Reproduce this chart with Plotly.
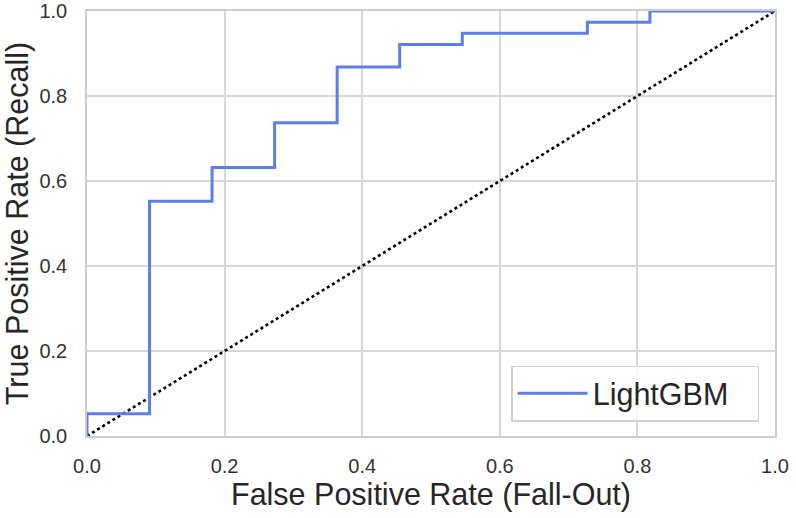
import plotly.graph_objects as go

fpr = [0.0, 0.0, 0.0909, 0.0909, 0.1818, 0.1818, 0.2727, 0.2727, 0.3636, 0.3636,
       0.4545, 0.4545, 0.5455, 0.5455, 0.7273, 0.7273, 0.8182, 0.8182, 1.0]
tpr = [0.0, 0.0526, 0.0526, 0.5526, 0.5526, 0.6316, 0.6316, 0.7368, 0.7368, 0.8684,
       0.8684, 0.9211, 0.9211, 0.9474, 0.9474, 0.9737, 0.9737, 1.0, 1.0]
diag = [0.0, 1.0]
ticks = [0.0, 0.2, 0.4, 0.6, 0.8, 1.0]
tick_text = ["0.0", "0.2", "0.4", "0.6", "0.8", "1.0"]

fig = go.Figure()
fig.add_trace(go.Scatter(x=diag, y=diag, mode="lines", showlegend=False,
                         line=dict(color="black", width=2.6, dash="dot"), hoverinfo="skip"))
fig.add_trace(go.Scatter(x=fpr, y=tpr, mode="lines", name="LightGBM",
                         line=dict(color="#5b7fe6", width=3)))

axis_common = dict(range=[0, 1], tickvals=ticks, ticktext=tick_text,
                   showgrid=True, gridcolor="#d6d6d6", gridwidth=1.5,
                   zeroline=False, showline=True, linecolor="#cccccc", linewidth=1.5,
                   mirror=True, ticks="", automargin=False,
                   tickfont=dict(size=20, color="#333333"))

fig.update_layout(
    width=796, height=518,
    margin=dict(l=87, r=21, t=11, b=82),
    paper_bgcolor="white", plot_bgcolor="white",
    font=dict(family="Liberation Sans, Arial, sans-serif", color="#262626"),
    xaxis=dict(**axis_common, ticklabelstandoff=11,
               title=dict(text="False Positive Rate (Fall-Out)",
                          font=dict(size=30.5), standoff=0)),
    yaxis=dict(**axis_common, ticklabelstandoff=14,
               title=dict(text="True Positive Rate (Recall)",
                          font=dict(size=30.5), standoff=21)),
    legend=dict(x=0.977, y=0.034, xanchor="right", yanchor="bottom",
                orientation="h", entrywidth=160, entrywidthmode="pixels",
                bgcolor="rgba(255,255,255,0.8)", bordercolor="#d0d0d0", borderwidth=1.5,
                font=dict(size=30.5, color="#262626"), itemwidth=70),
)

fig.write_html("out.html", config={"displayModeBar": False},
               post_script="document.body.style.margin='0';")
